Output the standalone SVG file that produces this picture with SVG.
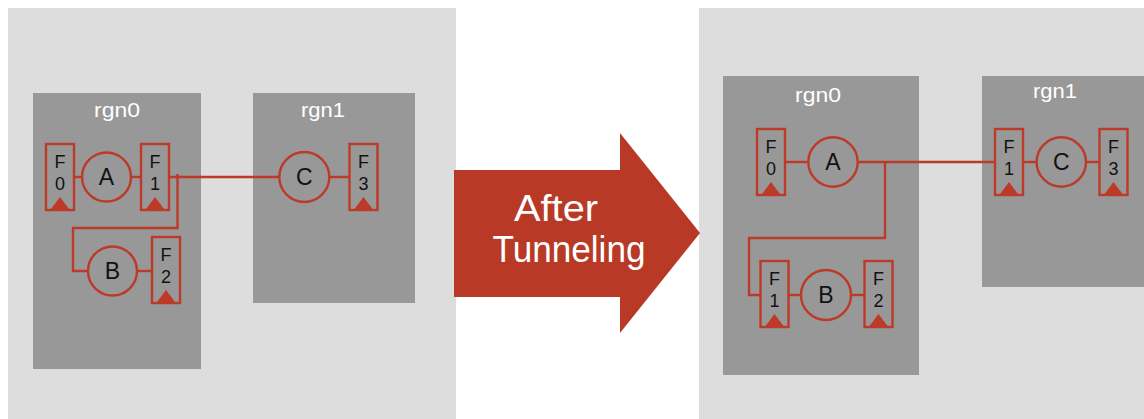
<svg xmlns="http://www.w3.org/2000/svg" width="1144" height="419" viewBox="0 0 1144 419">
<style>
.panel{fill:#dddddd}
.rgn{fill:#989898}
.rlab{fill:#ffffff;font-family:"Liberation Sans",Arial,sans-serif;font-size:21px;text-anchor:middle}
.fbox{fill:none;stroke:#bc3a27;stroke-width:2.4}
.tri{fill:#bc3a27}
.flab{fill:#111111;font-family:"Liberation Sans",Arial,sans-serif;font-size:18px;text-anchor:middle}
.node{fill:none;stroke:#bc3a27;stroke-width:2.4}
.nlab{fill:#111111;font-family:"Liberation Sans",Arial,sans-serif;font-size:23px;text-anchor:middle}
.wire{fill:none;stroke:#bc3a27;stroke-width:2.4}
.big{fill:#ffffff;font-family:"Liberation Sans",Arial,sans-serif;font-size:36px;text-anchor:middle}
</style>
<defs>
<g id="fport">
<rect class="fbox" x="0" y="0" width="28" height="66"/>
<polygon class="tri" points="14,53 5,65 23,65"/>
</g>
</defs>

<rect class="panel" x="8" y="8" width="448" height="411"/>
<rect class="panel" x="699" y="8" width="445" height="411"/>

<g id="left-rgn0"><rect class="rgn" x="33" y="93" width="168" height="276"/><text class="rlab" x="117" y="117" textLength="46" lengthAdjust="spacingAndGlyphs">rgn0</text></g>
<g id="left-rgn1"><rect class="rgn" x="253" y="93" width="162" height="210"/><text class="rlab" x="323" y="117" textLength="44" lengthAdjust="spacingAndGlyphs">rgn1</text></g>
<g id="right-rgn0"><rect class="rgn" x="723" y="76" width="196" height="299"/><text class="rlab" x="818" y="102" textLength="46" lengthAdjust="spacingAndGlyphs">rgn0</text></g>
<g id="right-rgn1"><rect class="rgn" x="982" y="76" width="162" height="211"/><text class="rlab" x="1055" y="98" textLength="44" lengthAdjust="spacingAndGlyphs">rgn1</text></g>

<g id="connectors">
<line class="wire" x1="74" y1="177" x2="82" y2="177"/>
<line class="wire" x1="131" y1="177" x2="141" y2="177"/>
<line class="wire" x1="169" y1="177" x2="279" y2="177"/>
<polyline class="wire" points="177.5,174 177.5,228 73,228 73,271 88,271"/>
<line class="wire" x1="137" y1="271" x2="152" y2="271"/>
<line class="wire" x1="329" y1="177" x2="349" y2="177"/>
<line class="wire" x1="786" y1="162" x2="808" y2="162"/>
<line class="wire" x1="858" y1="162" x2="994" y2="162"/>
<polyline class="wire" points="885,162 885,238 749,238 749,295 760,295"/>
<line class="wire" x1="789" y1="295" x2="801" y2="295"/>
<line class="wire" x1="851" y1="295" x2="864" y2="295"/>
<line class="wire" x1="1023" y1="162" x2="1037" y2="162"/>
<line class="wire" x1="1086" y1="162" x2="1099" y2="162"/>
</g>

<g id="L-F0"><use href="#fport" x="46" y="144"/><text class="flab" x="60" y="168">F</text><text class="flab" x="60" y="190">0</text></g>
<g id="L-A"><circle class="node" cx="106.5" cy="177" r="24.5"/><text class="nlab" x="106.5" y="185">A</text></g>
<g id="L-F1"><use href="#fport" x="141" y="144"/><text class="flab" x="155" y="168">F</text><text class="flab" x="155" y="190">1</text></g>
<g id="L-B"><circle class="node" cx="112.5" cy="271" r="24.5"/><text class="nlab" x="112.5" y="279">B</text></g>
<g id="L-F2"><use href="#fport" x="152" y="237"/><text class="flab" x="166" y="261">F</text><text class="flab" x="166" y="283">2</text></g>
<g id="L-C"><circle class="node" cx="304.3" cy="177" r="25"/><text class="nlab" x="304.3" y="185">C</text></g>
<g id="L-F3"><use href="#fport" x="349.5" y="144"/><text class="flab" x="363.5" y="168">F</text><text class="flab" x="363.5" y="190">3</text></g>

<g id="arrow">
<polygon fill="#b83a26" points="454,170 620,170 620,133 700,233 620,333 620,297 454,297"/>
<text class="big" x="556" y="221" textLength="84" lengthAdjust="spacingAndGlyphs">After</text>
<text class="big" x="569" y="262" textLength="153" lengthAdjust="spacingAndGlyphs">Tunneling</text>
</g>

<g id="R-F0"><use href="#fport" x="757" y="129"/><text class="flab" x="771" y="153">F</text><text class="flab" x="771" y="175">0</text></g>
<g id="R-A"><circle class="node" cx="833" cy="162" r="24.7"/><text class="nlab" x="833" y="170">A</text></g>
<g id="R-F1"><use href="#fport" x="760.5" y="261"/><text class="flab" x="774.5" y="285">F</text><text class="flab" x="774.5" y="307">1</text></g>
<g id="R-B"><circle class="node" cx="826" cy="295" r="25"/><text class="nlab" x="826" y="303">B</text></g>
<g id="R-F2"><use href="#fport" x="864.5" y="261"/><text class="flab" x="878.5" y="285">F</text><text class="flab" x="878.5" y="307">2</text></g>
<g id="R-F1b"><use href="#fport" x="995" y="129"/><text class="flab" x="1009" y="153">F</text><text class="flab" x="1009" y="175">1</text></g>
<g id="R-C"><circle class="node" cx="1061.3" cy="162" r="24.7"/><text class="nlab" x="1061.3" y="170">C</text></g>
<g id="R-F3"><use href="#fport" x="1099.5" y="129"/><text class="flab" x="1113.5" y="153">F</text><text class="flab" x="1113.5" y="175">3</text></g>
</svg>
